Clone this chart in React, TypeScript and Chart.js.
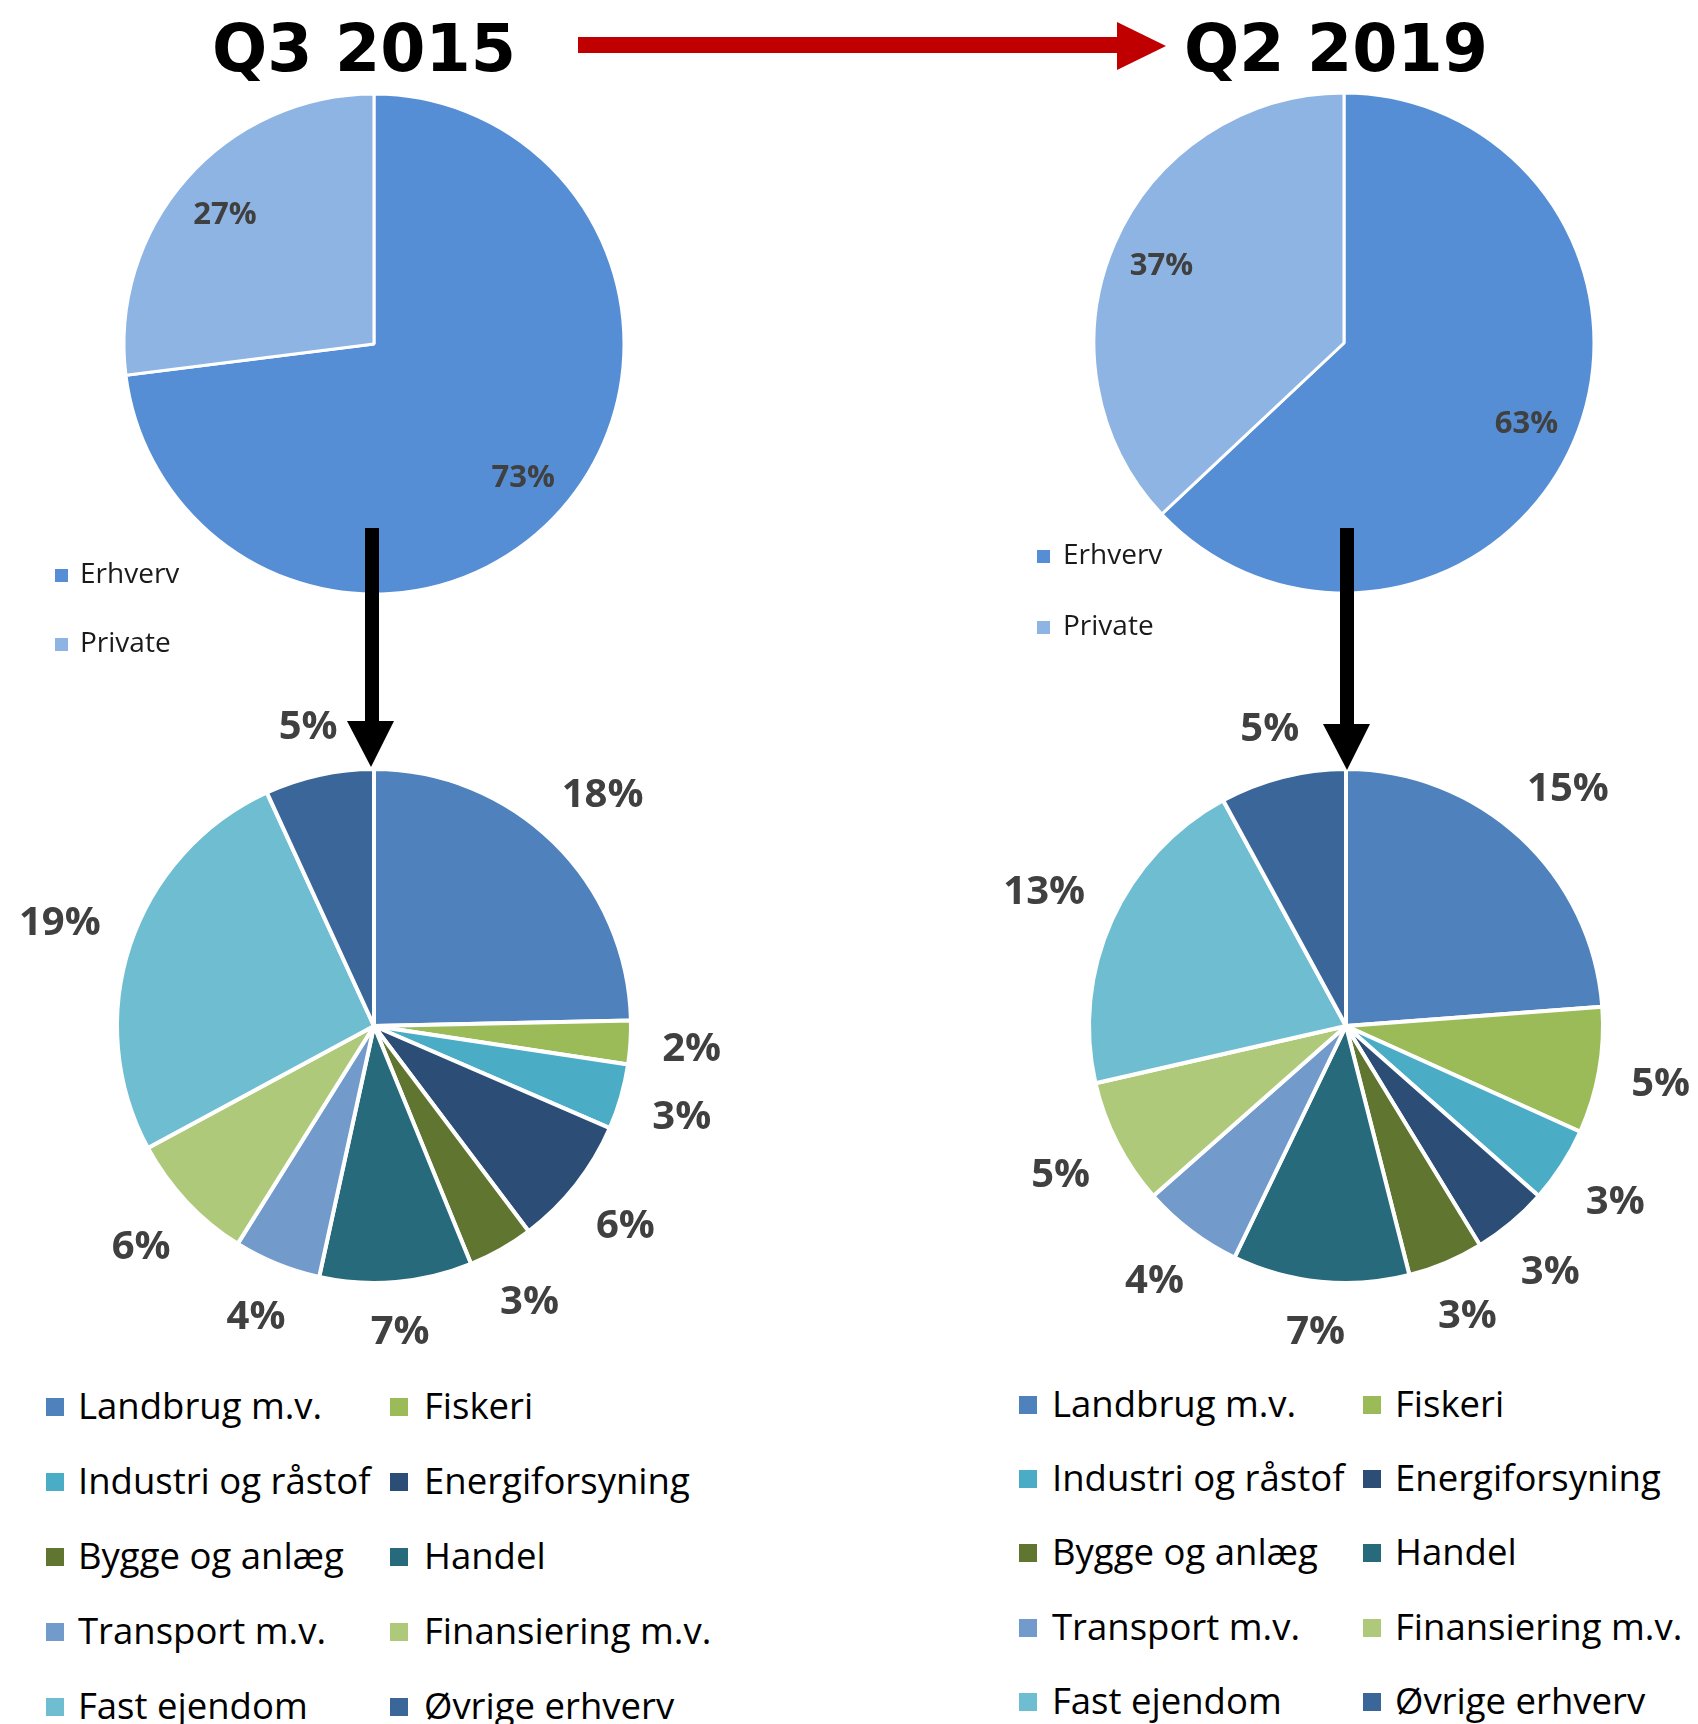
import React, { useEffect, useRef } from "react";
import { Chart, registerables } from "chart.js";

Chart.register(...registerables);

// ---------- data ----------
const TITLE_LEFT = "Q3 2015";
const TITLE_RIGHT = "Q2 2019";

const TOP_CATEGORIES = ["Erhverv", "Private"];
const TOP_VALUES_2015 = [73, 27];
const TOP_VALUES_2019 = [63, 37];
const TOP_COLORS = ["#558ED5", "#8EB4E3"];

const SECTOR_CATEGORIES = [
  "Landbrug m.v.",
  "Fiskeri",
  "Industri og råstof",
  "Energiforsyning",
  "Bygge og anlæg",
  "Handel",
  "Transport m.v.",
  "Finansiering m.v.",
  "Fast ejendom",
  "Øvrige erhverv",
];
const SECTOR_VALUES_2015 = [18, 2, 3, 6, 3, 7, 4, 6, 19, 5];
const SECTOR_VALUES_2019 = [15, 5, 3, 3, 3, 7, 4, 5, 13, 5];
const SECTOR_COLORS = [
  "#4F81BD",
  "#9BBB59",
  "#4BACC6",
  "#2C4D75",
  "#5F7530",
  "#276A7C",
  "#729ACA",
  "#AFC97A",
  "#6FBDD1",
  "#3A6699",
];

const LABEL_COLOR = "#404040";
const OPEN = "'Open Sans', 'DejaVu Sans', sans-serif";

type PieProps = {
  cx: number;
  cy: number;
  w: number;
  h: number;
  radius: number;
  border: number;
  labels: string[];
  values: number[];
  colors: string[];
  mode: "inside" | "outside";
  fontSize: number;
  gap?: number;
};

function Pie(props: PieProps) {
  const ref = useRef<HTMLCanvasElement>(null);
  useEffect(() => {
    const { radius, border, labels, values, colors, mode, fontSize } = props;
    const gap = props.gap ?? 34;
    const labelPlugin = {
      id: "sliceLabels",
      afterDatasetsDraw(chart: any) {
        const ctx = chart.ctx as CanvasRenderingContext2D;
        const meta = chart.getDatasetMeta(0);
        const data = chart.data.datasets[0].data as number[];
        ctx.save();
        ctx.font = `bold ${fontSize}px ${OPEN}`;
        ctx.fillStyle = LABEL_COLOR;
        ctx.textAlign = "center";
        ctx.textBaseline = "alphabetic";
        meta.data.forEach((el: any, i: number) => {
          const p = el.getProps(["x", "y", "startAngle", "endAngle", "outerRadius"], true);
          const mid = (p.startAngle + p.endAngle) / 2;
          const text = `${data[i]}%`;
          const tw = ctx.measureText(text).width;
          const th = fontSize * 0.714;
          const visR = p.outerRadius - border / 2;
          let d: number;
          if (mode === "outside") {
            d = visR + gap + (Math.abs(Math.cos(mid)) * tw) / 2 + (Math.abs(Math.sin(mid)) * th) / 2;
          } else {
            d = visR * 0.8;
          }
          const lx = p.x + Math.cos(mid) * d;
          const ly = p.y + Math.sin(mid) * d;
          ctx.fillText(text, lx, ly + th / 2);
        });
        ctx.restore();
      },
    };
    const chart = new Chart(ref.current as HTMLCanvasElement, {
      type: "pie",
      data: {
        labels,
        datasets: [
          {
            data: values,
            backgroundColor: colors,
            borderColor: "#FFFFFF",
            borderWidth: border,
            radius,
          } as any,
        ],
      },
      options: {
        responsive: false,
        animation: false,
        events: [],
        layout: { padding: 0 },
        plugins: { legend: { display: false }, tooltip: { enabled: false } },
      },
      plugins: [labelPlugin],
    });
    return () => chart.destroy();
  }, []);
  const { cx, cy, w, h } = props;
  return (
    <canvas
      ref={ref}
      width={w}
      height={h}
      style={{ position: "absolute", left: cx - w / 2, top: cy - h / 2, width: w, height: h }}
    />
  );
}

function Txt(props: {
  x: number;
  baseline: number;
  size: number;
  family: string;
  weight?: string;
  color?: string;
  children: React.ReactNode;
  asc: number;
}) {
  const { x, baseline, size, family, weight, color, children, asc } = props;
  return (
    <div
      style={{
        position: "absolute",
        left: x,
        top: baseline - asc * size,
        font: `${weight || "normal"} ${size}px ${family}`,
        lineHeight: `${size}px`,
        color: color || "#000",
        whiteSpace: "nowrap",
      }}
    >
      {children}
    </div>
  );
}

function TopLegend(props: { sqX: number; textX: number; centers: number[] }) {
  const { sqX, textX, centers } = props;
  return (
    <>
      {TOP_CATEGORIES.map((c, i) => (
        <React.Fragment key={c}>
          <div
            style={{
              position: "absolute",
              left: sqX,
              top: centers[i] - 6.5,
              width: 13,
              height: 13,
              background: TOP_COLORS[i],
            }}
          />
          <Txt x={textX} baseline={centers[i] + 8} size={28} family={OPEN} asc={0.888} color="#1a1a1a">
            {c}
          </Txt>
        </React.Fragment>
      ))}
    </>
  );
}

function SectorLegend(props: { sqX: number[]; textX: number[]; y0: number; step: number }) {
  const { sqX, textX, y0, step } = props;
  return (
    <>
      {SECTOR_CATEGORIES.map((c, i) => {
        const col = i % 2;
        const row = Math.floor(i / 2);
        const cy = y0 + row * step;
        return (
          <React.Fragment key={c}>
            <div
              style={{
                position: "absolute",
                left: sqX[col],
                top: cy - 9,
                width: 18,
                height: 18,
                background: SECTOR_COLORS[i],
              }}
            />
            <Txt x={textX[col]} baseline={cy + 12.5} size={36.5} family={OPEN} asc={0.888}>
              {c}
            </Txt>
          </React.Fragment>
        );
      })}
    </>
  );
}

export default function App() {
  return (
    <div
      style={{
        position: "absolute",
        left: 0,
        top: 0,
        width: 1698,
        height: 1724,
        overflow: "hidden",
        background: "#FFFFFF",
      }}
    >
      <Txt x={212} baseline={71} size={65} family="'DejaVu Sans', Verdana, sans-serif" weight="bold" asc={0.846}>
        {TITLE_LEFT}
      </Txt>
      <Txt x={1184} baseline={71} size={65} family="'DejaVu Sans', Verdana, sans-serif" weight="bold" asc={0.846}>
        {TITLE_RIGHT}
      </Txt>

      <Pie cx={374} cy={344} w={520} h={520} radius={250} border={3}
        labels={TOP_CATEGORIES} values={TOP_VALUES_2015} colors={TOP_COLORS} mode="inside" fontSize={31} />
      <Pie cx={1344} cy={343} w={520} h={520} radius={250} border={3}
        labels={TOP_CATEGORIES} values={TOP_VALUES_2019} colors={TOP_COLORS} mode="inside" fontSize={31} />

      <Pie cx={374} cy={1026} w={740} h={680} radius={257} border={4}
        labels={SECTOR_CATEGORIES} values={SECTOR_VALUES_2015} colors={SECTOR_COLORS} mode="outside" fontSize={40} gap={33} />
      <Pie cx={1346} cy={1026} w={720} h={680} radius={257} border={4}
        labels={SECTOR_CATEGORIES} values={SECTOR_VALUES_2019} colors={SECTOR_COLORS} mode="outside" fontSize={40} gap={33} />

      <TopLegend sqX={55} textX={80} centers={[575, 644]} />
      <TopLegend sqX={1037} textX={1063} centers={[556, 627]} />

      <SectorLegend sqX={[46, 390]} textX={[78, 424]} y0={1407} step={75} />
      <SectorLegend sqX={[1019, 1363]} textX={[1052, 1395]} y0={1404.5} step={74.4} />

      <svg
        width={1698}
        height={1724}
        style={{ position: "absolute", left: 0, top: 0, pointerEvents: "none" }}
      >
        <rect x={578} y={37} width={541} height={16} fill="#C00000" />
        <polygon points="1117,22 1166,46 1117,70" fill="#C00000" />
        <rect x={365} y={528} width={14} height={194} fill="#000" />
        <polygon points="347,721 394,721 371,767" fill="#000" />
        <rect x={1340} y={528} width={14} height={197} fill="#000" />
        <polygon points="1323,724 1370,724 1347,770" fill="#000" />
      </svg>
    </div>
  );
}
